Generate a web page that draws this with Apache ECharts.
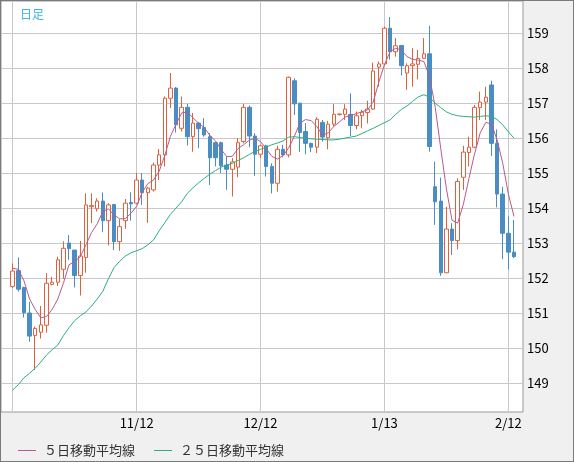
<!DOCTYPE html>
<html><head><meta charset="utf-8">
<script src="https://cdn.jsdelivr.net/npm/echarts@6/dist/echarts.min.js"></script>
<style>html,body{margin:0;padding:0;background:#f0f0f0}#c{width:574px;height:462px}</style>
</head><body><div id="c"></div>
<script>
const dates = ['10/13','10/14','10/15','10/16','10/17','10/20','10/21','10/22','10/23','10/24','10/27','10/28','10/29','10/30','10/31',
'11/3','11/4','11/5','11/6','11/7','11/10','11/11','11/12','11/13','11/14','11/17','11/18','11/19','11/20','11/21','11/24','11/25','11/26','11/27','11/28',
'12/1','12/2','12/3','12/4','12/5','12/8','12/9','12/10','12/11','12/12','12/15','12/16','12/17','12/18','12/19','12/22','12/23','12/24','12/25','12/26','12/29','12/30','12/31',
'1/1','1/2','1/5','1/6','1/7','1/8','1/9','1/12','1/13','1/14','1/15','1/16','1/19','1/20','1/21','1/22','1/23','1/26','1/27','1/28','1/29','1/30',
'2/2','2/3','2/4','2/5','2/6','2/9','2/10','2/11','2/12','2/13'];
const open = [151.76,152.21,151.73,151.00,150.36,150.45,150.65,151.82,151.88,152.25,153.00,152.80,152.07,152.59,154.04,153.98,154.20,153.64,154.10,153.04,
153.64,154.16,154.14,154.80,154.44,154.52,155.23,155.52,157.14,157.43,156.28,156.88,156.04,156.43,156.30,156.04,155.87,155.87,155.23,155.11,
155.17,155.90,156.88,156.06,155.54,155.78,155.19,154.71,155.68,155.52,157.64,157.00,156.19,155.85,155.74,156.45,156.01,156.40,156.67,156.68,
156.68,156.36,156.64,156.73,156.83,158.03,158.12,159.14,158.47,158.65,157.86,158.07,158.11,158.28,158.41,154.61,154.20,152.15,153.40,153.07,
154.88,155.59,155.74,156.87,157.03,157.52,155.85,154.40,153.28,152.74];
const close = [152.20,151.68,151.01,150.34,150.56,150.66,151.85,151.88,152.52,152.85,152.84,152.07,152.63,154.09,154.07,154.20,153.64,154.09,153.04,153.47,
154.14,154.12,154.80,154.44,154.57,155.23,155.52,157.14,157.43,156.38,156.88,156.04,156.43,156.27,156.09,155.44,155.44,155.21,155.11,155.32,
155.87,156.88,156.06,155.54,155.78,155.19,154.71,155.68,155.52,157.74,156.98,156.16,155.85,155.74,156.54,156.03,156.40,156.68,156.69,156.83,
156.36,156.64,156.74,156.83,157.92,158.12,159.14,158.47,158.64,158.07,158.07,158.12,158.28,158.41,155.76,154.18,152.15,153.40,153.07,154.76,
155.60,155.74,156.88,157.03,157.17,155.85,154.40,153.28,152.74,152.61];
const low = [151.71,151.61,150.87,150.18,149.37,150.27,150.44,151.79,151.77,151.98,152.52,151.73,151.50,152.15,153.57,153.90,153.31,152.93,152.80,152.78,
153.41,153.64,154.12,154.09,153.58,154.47,154.80,155.19,156.86,156.16,156.19,155.79,155.61,155.71,156.04,154.66,155.19,155.00,154.52,154.33,
154.88,155.85,155.74,154.92,155.43,154.90,154.42,154.47,155.45,155.45,156.66,155.61,155.54,155.60,155.57,155.90,155.68,156.33,156.65,156.52,
156.06,156.25,156.28,156.42,156.81,157.47,158.09,158.24,158.33,157.79,157.38,157.47,157.68,158.26,155.61,153.52,152.06,152.14,152.66,152.82,
154.52,155.19,155.71,156.52,156.52,155.49,154.02,152.54,152.25,152.57];
const high = [152.42,152.59,151.75,151.32,150.61,151.20,152.14,152.04,152.61,153.05,153.23,152.80,153.06,154.42,154.42,154.28,154.45,154.14,154.12,153.68,
154.26,154.45,155.00,155.00,154.61,155.30,155.69,157.19,157.86,157.46,157.19,156.98,156.72,156.45,156.57,156.14,155.88,155.90,155.47,155.43,
156.00,156.98,156.93,156.14,155.81,155.81,155.28,155.78,155.81,157.76,157.71,157.00,156.43,155.87,156.60,156.52,156.49,156.97,156.70,156.97,
157.28,156.76,156.81,157.07,158.16,158.19,159.19,159.46,158.86,158.66,158.14,158.57,158.52,158.86,159.21,155.33,154.87,154.04,153.57,154.85,
155.78,156.04,156.95,157.33,157.47,157.64,156.25,154.61,153.76,153.66];
const ma5 = [152.28,152.25,151.92,151.40,151.10,150.86,150.90,151.10,151.40,151.85,152.38,152.47,152.61,152.95,153.30,153.55,153.90,153.98,153.80,153.69,
153.70,153.85,154.05,154.45,154.70,154.80,155.05,155.50,156.05,156.40,156.72,156.75,156.58,156.43,156.30,156.08,155.92,155.68,155.47,155.48,
155.70,155.81,155.94,156.00,155.90,155.70,155.48,155.40,155.50,155.72,156.05,156.43,156.53,156.50,156.33,156.08,156.15,156.33,156.46,156.60,
156.65,156.70,156.75,156.81,157.03,157.60,158.10,158.47,158.57,158.52,158.33,158.25,158.23,158.19,157.76,156.90,155.70,154.55,153.65,153.57,
154.10,154.85,155.55,156.15,156.45,156.40,155.95,155.28,154.40,153.76];
const ma25 = [148.80,148.95,149.15,149.28,149.42,149.60,149.80,149.95,150.08,150.35,150.58,150.78,150.92,151.03,151.20,151.40,151.62,151.98,152.30,152.48,
152.63,152.72,152.78,152.84,152.95,153.09,153.35,153.58,153.82,154.00,154.18,154.42,154.58,154.72,154.85,154.97,155.07,155.17,155.23,155.28,
155.36,155.44,155.53,155.62,155.68,155.74,155.81,155.86,155.92,156.03,156.04,156.02,155.99,155.98,155.97,155.96,155.95,155.95,155.97,156.00,
156.03,156.06,156.13,156.21,156.28,156.36,156.44,156.52,156.68,156.82,156.92,157.05,157.18,157.24,157.17,157.00,156.87,156.75,156.68,156.64,
156.62,156.61,156.60,156.62,156.64,156.62,156.53,156.38,156.18,156.00];
const yTicks = [149,150,151,152,153,154,155,156,157,158,159];
const gridIdx = [0,22,44,66,88];
const labelIdx = [22,44,66,88];
const seriesNames = ['５日移動平均線','２５日移動平均線'];

const FONT = '"Noto Sans CJK JP", "DejaVu Sans", sans-serif';
const YMIN = 148.17, YMAX = 159.92;
const candles = dates.map((d, i) => [open[i], close[i], low[i], high[i]]);

const chart = echarts.init(document.getElementById('c'), null, {renderer: 'canvas'});
chart.setOption({
  animation: false,
  backgroundColor: '#f0f0f0',
  textStyle: {fontFamily: FONT},
  title: {text: '日足', left: 15, top: 3, textStyle: {fontSize: 12, color: '#3cb4e6', fontWeight: 'normal', fontFamily: FONT}},
  legend: {
    data: seriesNames, left: 13, top: 439, icon: 'rect', itemWidth: 18, itemHeight: 1, itemGap: 19,
    textStyle: {fontSize: 13, color: '#333', fontFamily: FONT, padding: [0, 0, 0, 3]}
  },
  graphic: [{type: 'rect', z: 100, silent: true, shape: {x: 0, y: 0, width: 574, height: 462},
    style: {fill: 'none', stroke: '#7a7a7a', lineWidth: 2}}],
  grid: [
    {left: 1, right: 51, top: 1, bottom: 50, show: true, backgroundColor: '#fff', borderColor: '#999', borderWidth: 1},
    {left: 12.7, right: 60, top: 1, bottom: 50}
  ],
  xAxis: [
    {gridIndex: 0, type: 'value', min: 0, max: 1, show: false},
    {gridIndex: 1, type: 'category', data: dates, boundaryGap: false,
      axisLine: {show: false}, axisTick: {show: false},
      axisLabel: {interval: (i) => labelIdx.includes(i), color: '#000', fontSize: 13, margin: 5, fontFamily: FONT},
      splitLine: {show: true, interval: (i) => gridIdx.includes(i), lineStyle: {color: '#c8c8c8', width: 1}}}
  ],
  yAxis: [
    {gridIndex: 0, type: 'value', position: 'right', min: YMIN, max: YMAX,
      axisLine: {show: false},
      axisTick: {show: false, customValues: yTicks},
      axisLabel: {customValues: yTicks, color: '#000', fontSize: 13, margin: 4, fontFamily: FONT},
      splitLine: {show: true, lineStyle: {color: '#c8c8c8', width: 1}}},
    {gridIndex: 1, type: 'value', min: YMIN, max: YMAX, show: false, splitLine: {show: false}}
  ],
  series: [
    {type: 'candlestick', xAxisIndex: 1, yAxisIndex: 1, data: candles, barWidth: 4, clip: false,
      itemStyle: {color: '#ffffff', color0: '#4a8cc4', borderColor: '#e0603c', borderColor0: '#4a8cc4', borderWidth: 1}},
    {name: seriesNames[0], type: 'line', xAxisIndex: 1, yAxisIndex: 1, data: ma5, showSymbol: false, symbol: 'none',
      lineStyle: {color: '#b85a8c', width: 1}, itemStyle: {color: '#b85a8c'}},
    {name: seriesNames[1], type: 'line', xAxisIndex: 1, yAxisIndex: 1, data: ma25, showSymbol: false, symbol: 'none',
      lineStyle: {color: '#2eae78', width: 1}, itemStyle: {color: '#2eae78'}}
  ]
});
</script></body></html>
